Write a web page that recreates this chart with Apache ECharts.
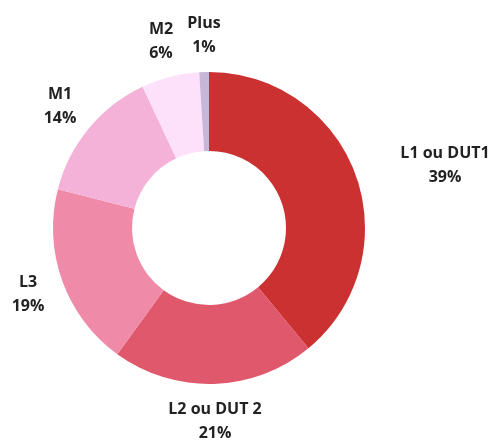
<!DOCTYPE html>
<html>
<head>
<meta charset="utf-8">
<script src="https://cdn.jsdelivr.net/npm/echarts@6/dist/echarts.min.js"></script>
<style>
  html, body { margin: 0; padding: 0; background: #fff; }
  #main { width: 493px; height: 444px; }
</style>
</head>
<body>
<div id="main"></div>
<script>
// niveaux d'études (ordre horaire depuis midi)
var categories = ['L1 ou DUT1', 'L2 ou DUT 2', 'L3', 'M1', 'M2', 'Plus'];
var values = [39, 21, 19, 14, 6, 1];
var colors = ['#cc3131', '#e0586b', '#ef8aa9', '#f4b2d8', '#fde0fa', '#c6b6d8'];

// centre des étiquettes (x, y) en pixels
var labelSpots = [[445, 165], [215, 421], [28, 294], [60, 106], [161, 41], [204, 35]];

var myChart = echarts.init(document.getElementById('main'));

var pieData = [];
for (var i = 0; i < categories.length; i++) {
  pieData.push({ name: categories[i], value: values[i], itemStyle: { color: colors[i] } });
}

var option = {
  backgroundColor: '#fff',
  animation: false,
  series: [
    {
      type: 'pie',
      center: [209, 228],
      radius: [77, 156],
      startAngle: 90,
      clockwise: true,
      avoidLabelOverlap: false,
      itemStyle: { borderWidth: 0 },
      label: {
        show: true,
        position: 'outside',
        formatter: function (p) {
          return p.name + '\n' + Math.round(p.percent) + '%';
        },
        fontFamily: '"Open Sans", Lato, sans-serif',
        fontWeight: 'bold',
        fontSize: 16,
        lineHeight: 24,
        color: '#222',
        align: 'center'
      },
      labelLine: { show: false },
      labelLayout: function (params) {
        var s = labelSpots[params.dataIndex];
        return {
          x: s[0],
          y: s[1],
          align: 'center',
          verticalAlign: 'middle'
        };
      },
      data: pieData
    }
  ]
};

myChart.setOption(option);
</script>
</body>
</html>
